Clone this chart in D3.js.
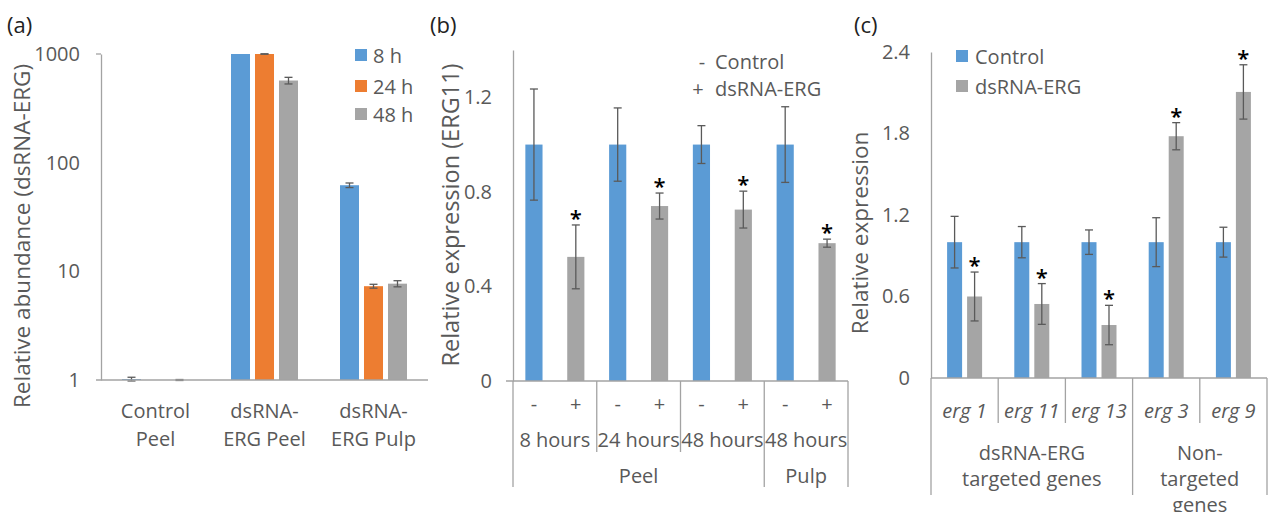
<!DOCTYPE html>
<html>
<head>
<meta charset="utf-8">
<script src="https://cdn.jsdelivr.net/npm/d3@7"></script>
<style>
  body { margin: 0; background: #fff; }
  svg { display: block; font-family: 'Open Sans', sans-serif; }
</style>
</head>
<body>
<svg id="chart" width="1269" height="512"></svg>
<script>
// ---- panel (a) data
const groupsA = ["Control Peel", "dsRNA-ERG Peel", "dsRNA-ERG Pulp"];
const groupLinesA = [["Control", "Peel"], ["dsRNA-", "ERG Peel"], ["dsRNA-", "ERG Pulp"]];
const timesA = ["8 h", "24 h", "48 h"];
const abund8h = [1.02, 1000, 62];
const err8h = [0.04, 0, 3];
const abund24h = [1, 1000, 7.3];
const err24h = [0, 4, 0.3];
const abund48h = [1, 570, 7.7];
const err48h = [0.01, 40, 0.5];
const ticksA = [1, 10, 100, 1000];

// ---- panel (b) data
const signsB = ["-", "+", "-", "+", "-", "+", "-", "+"];
const hoursB = ["8 hours", "24 hours", "48 hours", "48 hours"];
const tissueB = ["Peel", "Peel", "Peel", "Pulp"];
const exprB = [1, 0.525, 1, 0.74, 1, 0.725, 1, 0.583];
const errB = [0.235, 0.135, 0.155, 0.055, 0.08, 0.078, 0.16, 0.017];
const sigB = [false, true, false, true, false, true, false, true];
const ticksB = [0, 0.4, 0.8, 1.2];

// ---- panel (c) data
const genesC = ["erg 1", "erg 11", "erg 13", "erg 3", "erg 9"];
const geneGroupC = ["targeted", "targeted", "targeted", "non", "non"];
const groupLinesC = { targeted: ["dsRNA-ERG", "targeted genes"], non: ["Non-", "targeted", "genes"] };
const controlC = [1, 1, 1, 1, 1];
const controlErrC = [0.19, 0.115, 0.09, 0.18, 0.11];
const dsrnaC = [0.6, 0.545, 0.39, 1.78, 2.106];
const dsrnaErrC = [0.18, 0.15, 0.145, 0.1, 0.2];
const sigC = [true, true, true, true, true];
const ticksC = [0, 0.6, 1.2, 1.8, 2.4];

const blue = "#5b9bd5", orange = "#ed7d31", grey = "#a5a5a5";
const textCol = "#595959", axisCol = "#a3a3a3", errCol = "#5a5a5a";

const svg = d3.select("#chart");

function errorBar(g, x, yTop, yBot) {
  g.append("line").attr("x1", x).attr("x2", x).attr("y1", yTop).attr("y2", yBot)
    .attr("stroke", errCol).attr("stroke-width", 1.3);
  [yTop, yBot].forEach(y => g.append("line").attr("x1", x - 4).attr("x2", x + 4)
    .attr("y1", y).attr("y2", y).attr("stroke", errCol).attr("stroke-width", 1.3));
}

function star(g, x, yErrTop) {
  g.append("text").attr("x", x).attr("y", yErrTop + 1).attr("text-anchor", "middle")
    .attr("font-size", 22).attr("font-weight", 600).attr("fill", "#000").text("*");
}

function yAxis(g, scale, x, ticks, fmt) {
  const ax = d3.axisLeft(scale).tickValues(ticks).tickFormat(fmt).tickSize(0).tickPadding(21).tickSizeOuter(0);
  const a = g.append("g").attr("transform", `translate(${x},0)`).call(ax);
  a.select(".domain").attr("stroke", axisCol).attr("stroke-width", 1.3);
  a.selectAll("text").attr("fill", textCol).attr("font-size", 20)
    .attr("font-family", "'Open Sans', sans-serif");
  return a;
}

function label(g, x, y, txt, size, opts = {}) {
  const t = g.append("text").attr("x", x).attr("y", y).attr("text-anchor", opts.anchor || "middle")
    .attr("dominant-baseline", "central").attr("font-size", size).attr("fill", opts.fill || textCol)
    .text(txt);
  if (opts.italic) t.attr("font-style", "italic");
  if (opts.rotate) t.attr("transform", `rotate(-90,${x},${y})`);
  return t;
}

// ================= panel (a)
{
  const g = svg.append("g");
  const y = d3.scaleLog().domain([1, 1000]).range([380, 54]);
  const x = d3.scaleBand().domain(groupsA).range([101, 428]);
  const xi = d3.scaleBand().domain(timesA).range([-33.5, 33.5]).paddingInner(0.208);
  const series = [
    { name: "8 h", vals: abund8h, errs: err8h, col: blue },
    { name: "24 h", vals: abund24h, errs: err24h, col: orange },
    { name: "48 h", vals: abund48h, errs: err48h, col: grey }
  ];

  series.forEach(s => {
    groupsA.forEach((grp, i) => {
      const x0 = x(grp) + x.bandwidth() / 2 + xi(s.name);
      g.append("rect").attr("x", x0).attr("width", xi.bandwidth())
        .attr("y", y(s.vals[i])).attr("height", y(1) - y(s.vals[i])).attr("fill", s.col);
    });
  });
  series.forEach(s => {
    groupsA.forEach((grp, i) => {
      if (!s.errs[i]) return;
      const cx = x(grp) + x.bandwidth() / 2 + xi(s.name) + xi.bandwidth() / 2;
      errorBar(g, cx, y(s.vals[i] + s.errs[i]), y(s.vals[i] - s.errs[i]));
    });
  });

  yAxis(g, y, 101, ticksA, d3.format("d"));
  g.append("line").attr("x1", 96).attr("x2", 101).attr("y1", y(1000)).attr("y2", y(1000))
    .attr("stroke", axisCol).attr("stroke-width", 1.3);
  g.append("line").attr("x1", 96).attr("x2", 428).attr("y1", y(1)).attr("y2", y(1))
    .attr("stroke", axisCol).attr("stroke-width", 1.5);

  groupsA.forEach((grp, i) => {
    const cx = x(grp) + x.bandwidth() / 2;
    groupLinesA[i].forEach((ln, j) => label(g, cx, 410 + j * 28, ln, 20));
  });

  // legend
  const legY = [55, 86, 114];
  series.forEach((s, i) => {
    g.append("rect").attr("x", 355).attr("y", legY[i] - 6).attr("width", 12).attr("height", 12).attr("fill", s.col);
    label(g, 373, legY[i], s.name, 20, { anchor: "start" });
  });

  label(g, 21, 236, "Relative abundance (dsRNA-ERG)", 22.5, { rotate: true });
  label(g, 7, 24, "(a)", 22, { anchor: "start", fill: "#222" });
}

// ================= panel (b)
{
  const g = svg.append("g");
  const y = d3.scaleLinear().domain([0, 1.4]).range([381, 50]);
  const idx = d3.range(signsB.length);
  const x = d3.scaleBand().domain(idx).range([513, 848]).paddingInner(0.59).paddingOuter(0.295);
  const edge = i => x(i) - (x.step() - x.bandwidth()) / 2;

  idx.forEach(i => {
    g.append("rect").attr("x", x(i)).attr("width", x.bandwidth())
      .attr("y", y(exprB[i])).attr("height", y(0) - y(exprB[i]))
      .attr("fill", signsB[i] === "-" ? blue : grey);
  });
  idx.forEach(i => {
    const cx = x(i) + x.bandwidth() / 2;
    errorBar(g, cx, y(exprB[i] + errB[i]), y(exprB[i] - errB[i]));
    if (sigB[i]) star(g, cx, y(exprB[i] + errB[i]));
  });

  yAxis(g, y, 513, ticksB, d => d === 0 ? "0" : d.toFixed(1));
  g.append("line").attr("x1", 506).attr("x2", 848).attr("y1", y(0)).attr("y2", y(0))
    .attr("stroke", axisCol).attr("stroke-width", 1.5);

  // category labels and separators
  idx.forEach(i => label(g, x(i) + x.bandwidth() / 2, 403, signsB[i], 20));
  hoursB.forEach((h, k) => {
    const x0 = edge(k * 2), x1 = k * 2 + 2 < idx.length ? edge(k * 2 + 2) : 848;
    label(g, (x0 + x1) / 2, 439, h, 20);
  });
  const seps = d3.range(hoursB.length + 1);
  seps.forEach(k => {
    const xs = k * 2 < idx.length ? edge(k * 2) : 848;
    const outer = k === 0 || k === hoursB.length || tissueB[k] !== tissueB[k - 1];
    g.append("line").attr("x1", xs).attr("x2", xs).attr("y1", y(0)).attr("y2", outer ? 487 : 452)
      .attr("stroke", axisCol).attr("stroke-width", 1.3);
  });
  const tissues = Array.from(new Set(tissueB));
  tissues.forEach(t => {
    const ks = hoursB.map((_, k) => k).filter(k => tissueB[k] === t);
    const x0 = edge(ks[0] * 2);
    const last = ks[ks.length - 1] * 2 + 2;
    const x1 = last < idx.length ? edge(last) : 848;
    label(g, (x0 + x1) / 2, 475, t, 20);
  });

  // legend
  label(g, 702, 61, "-", 20);
  label(g, 715, 61, "Control", 20, { anchor: "start" });
  label(g, 698, 88, "+", 20);
  label(g, 715, 88, "dsRNA-ERG", 20, { anchor: "start" });

  label(g, 450, 215, "Relative expression (ERG11)", 23.5, { rotate: true });
  label(g, 430, 24, "(b)", 22, { anchor: "start", fill: "#222" });
}

// ================= panel (c)
{
  const g = svg.append("g");
  const y = d3.scaleLinear().domain([0, 2.4]).range([378, 52]);
  const x = d3.scaleBand().domain(genesC).range([931, 1267]);
  const xi = d3.scaleBand().domain(["Control", "dsRNA-ERG"]).range([-17.5, 17.5]).paddingInner(0.25);
  const series = [
    { name: "Control", vals: controlC, errs: controlErrC, col: blue, sig: genesC.map(() => false) },
    { name: "dsRNA-ERG", vals: dsrnaC, errs: dsrnaErrC, col: grey, sig: sigC }
  ];

  series.forEach(s => {
    genesC.forEach((gene, i) => {
      g.append("rect").attr("x", x(gene) + x.bandwidth() / 2 + xi(s.name)).attr("width", xi.bandwidth())
        .attr("y", y(s.vals[i])).attr("height", y(0) - y(s.vals[i])).attr("fill", s.col);
    });
  });
  series.forEach(s => {
    genesC.forEach((gene, i) => {
      const cx = x(gene) + x.bandwidth() / 2 + xi(s.name) + xi.bandwidth() / 2;
      errorBar(g, cx, y(s.vals[i] + s.errs[i]), y(s.vals[i] - s.errs[i]));
      if (s.sig[i]) star(g, cx, y(s.vals[i] + s.errs[i]));
    });
  });

  yAxis(g, y, 931, ticksC, d => d === 0 ? "0" : d.toFixed(1));
  g.append("line").attr("x1", 931).attr("x2", 1267).attr("y1", y(0)).attr("y2", y(0))
    .attr("stroke", axisCol).attr("stroke-width", 1.5);

  genesC.forEach(gene => label(g, x(gene) + x.bandwidth() / 2, 410, gene, 20, { italic: true }));
  genesC.concat([null]).forEach((gene, i) => {
    const xs = gene ? x(gene) : 1267;
    const outer = i === 0 || i === genesC.length || geneGroupC[i] !== geneGroupC[i - 1];
    g.append("line").attr("x1", xs).attr("x2", xs).attr("y1", y(0)).attr("y2", outer ? 495 : 423)
      .attr("stroke", axisCol).attr("stroke-width", 1.3);
  });
  Object.keys(groupLinesC).forEach(key => {
    const members = genesC.filter((_, i) => geneGroupC[i] === key);
    const x0 = x(members[0]), x1 = x(members[members.length - 1]) + x.bandwidth();
    groupLinesC[key].forEach((ln, j) => label(g, (x0 + x1) / 2, 452 + j * 26, ln, 20));
  });

  // legend
  series.forEach((s, i) => {
    const ly = 56 + i * 30;
    g.append("rect").attr("x", 956).attr("y", ly - 6).attr("width", 12).attr("height", 12).attr("fill", s.col);
    label(g, 975, ly, s.name, 20, { anchor: "start" });
  });

  label(g, 859, 233, "Relative expression", 22.5, { rotate: true });
  label(g, 854, 24, "(c)", 22, { anchor: "start", fill: "#222" });
}
</script>
</body>
</html>
